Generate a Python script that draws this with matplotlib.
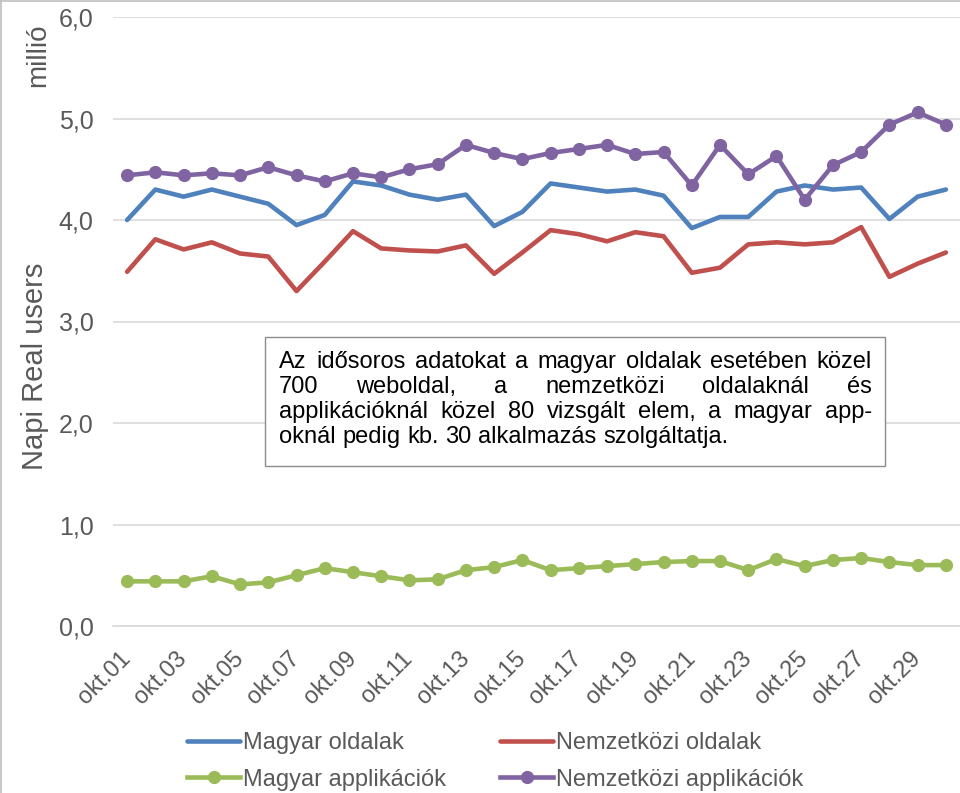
import matplotlib
matplotlib.use("Agg")
import matplotlib.pyplot as plt
from matplotlib.patches import Rectangle
from matplotlib.lines import Line2D

plt.rcParams["font.family"] = ["Liberation Sans", "DejaVu Sans"]

# data (millió napi real user)
days = [f"okt.{d:02d}" for d in range(1, 31)]

magyar_oldalak = [
    4.00, 4.30, 4.23, 4.30, 4.23, 4.16, 3.95, 4.05, 4.38, 4.34,
    4.25, 4.20, 4.25, 3.94, 4.08, 4.36, 4.32, 4.28, 4.30, 4.24,
    3.92, 4.03, 4.03, 4.28, 4.34, 4.30, 4.32, 4.01, 4.23, 4.30,
]
nemzetkozi_oldalak = [
    3.49, 3.81, 3.71, 3.78, 3.67, 3.64, 3.30, 3.59, 3.89, 3.72,
    3.70, 3.69, 3.75, 3.47, 3.68, 3.90, 3.86, 3.79, 3.88, 3.84,
    3.48, 3.53, 3.76, 3.78, 3.76, 3.78, 3.93, 3.44, 3.57, 3.68,
]
magyar_app = [
    0.44, 0.44, 0.44, 0.49, 0.41, 0.43, 0.50, 0.57, 0.53, 0.49,
    0.45, 0.46, 0.55, 0.58, 0.65, 0.55, 0.57, 0.59, 0.61, 0.63,
    0.64, 0.64, 0.55, 0.66, 0.59, 0.65, 0.67, 0.63, 0.60, 0.60,
]
nemzetkozi_app = [
    4.44, 4.47, 4.44, 4.46, 4.44, 4.52, 4.44, 4.38, 4.46, 4.42,
    4.50, 4.55, 4.74, 4.66, 4.60, 4.66, 4.70, 4.74, 4.65, 4.67,
    4.34, 4.74, 4.45, 4.63, 4.20, 4.54, 4.67, 4.94, 5.06, 4.94,
]

yticks = [0, 1, 2, 3, 4, 5, 6]
ytick_labels = ["0,0", "1,0", "2,0", "3,0", "4,0", "5,0", "6,0"]

note_lines = [
    "Az idősoros adatokat a magyar oldalak esetében közel",
    "700 weboldal, a nemzetközi oldalaknál és",
    "applikációknál közel 80 vizsgált elem, a magyar app-",
    "oknál pedig kb. 30 alkalmazás szolgáltatja.",
]

BLUE = "#4f81bd"
RED = "#c0504d"
GREEN = "#9bbb59"
PURPLE = "#8064a2"
TEXT = "#595959"
GRID = "#d9d9d9"

W, H = 960, 793


def fx(px):
    return px / W


def fy(py):
    return 1 - py / H


def draw_note(fig):
    box = Rectangle(
        (fx(265), fy(466)), fx(885) - fx(265), fy(337) - fy(466),
        transform=fig.transFigure, facecolor="white",
        edgecolor="#8c8c8c", linewidth=1.0, zorder=5,
    )
    fig.add_artist(box)

    renderer = fig.canvas.get_renderer()
    left, right = 279, 872
    baselines = [368, 393, 418, 443]
    fs = 17

    for i, line in enumerate(note_lines):
        words = line.split()
        texts = []
        widths = []
        for w in words:
            t = fig.text(0, fy(baselines[i]), w, fontsize=fs, color="black",
                         va="baseline", ha="left", zorder=6)
            texts.append(t)
            widths.append(t.get_window_extent(renderer).width)
        if i < len(note_lines) - 1:
            gap = (right - left - sum(widths)) / (len(words) - 1)
        else:
            space = fig.text(0, 0, "a a", fontsize=fs)
            a_only = fig.text(0, 0, "aa", fontsize=fs)
            gap = (space.get_window_extent(renderer).width
                   - a_only.get_window_extent(renderer).width)
            space.remove()
            a_only.remove()
        x = left
        for t, w in zip(texts, widths):
            t.set_x(fx(x))
            x += w + gap


def main():
    fig = plt.figure(figsize=(W / 100, H / 100), dpi=100)
    ax = fig.add_axes([fx(113), fy(626), fx(960) - fx(113), fy(17) - fy(626)])

    x = list(range(len(days)))

    ax.plot(x, magyar_oldalak, color=BLUE, lw=3.3, zorder=3,
            solid_capstyle="round", label="Magyar oldalak")
    ax.plot(x, nemzetkozi_oldalak, color=RED, lw=3.3, zorder=3,
            solid_capstyle="round", label="Nemzetközi oldalak")
    ax.plot(x, magyar_app, color=GREEN, lw=3.3, marker="o", ms=8.5,
            zorder=3, label="Magyar applikációk")
    ax.plot(x, nemzetkozi_app, color=PURPLE, lw=3.3, marker="o", ms=8.5,
            zorder=4, label="Nemzetközi applikációk")

    ax.set_xlim(-0.5, len(days) - 0.5)
    ax.set_ylim(0, 6)

    ax.set_yticks(yticks)
    ax.set_yticklabels(ytick_labels)
    ax.grid(axis="y", color=GRID, lw=1.2)
    ax.set_axisbelow(True)

    ax.set_xticks(x[::2])
    ax.set_xticklabels(days[::2], rotation=45, ha="right", va="center",
                       rotation_mode="anchor")

    ax.tick_params(axis="both", length=0, colors=TEXT)
    ax.tick_params(axis="y", labelsize=18, pad=14)
    ax.tick_params(axis="x", labelsize=17, pad=21)

    for side in ["top", "right", "left"]:
        ax.spines[side].set_visible(False)
    ax.spines["bottom"].set_color(GRID)
    ax.spines["bottom"].set_linewidth(1.2)

    fig.text(fx(35), fy(366), "Napi Real users", rotation=90, fontsize=21,
             color=TEXT, ha="center", va="center")
    fig.text(fx(38), fy(55), "millió", rotation=90, fontsize=20,
             color=TEXT, ha="center", va="center")

    handles, labels = ax.get_legend_handles_labels()
    order = [0, 2, 1, 3]
    fig.legend(
        [handles[i] for i in order], [labels[i] for i in order],
        ncol=2, loc="upper left", bbox_to_anchor=(fx(187), fy(732)),
        frameon=False, fontsize=17, labelcolor=TEXT,
        handlelength=2.25, handletextpad=0.12, columnspacing=2.3,
        labelspacing=0.62, borderpad=0, borderaxespad=0,
    )

    # thin frame of the chart area (left and top edge)
    fig.add_artist(Line2D([0.0008, 0.0008], [0, 1], transform=fig.transFigure,
                          color="#bfbfbf", lw=1.2))
    fig.add_artist(Line2D([0, 1], [0.999, 0.999], transform=fig.transFigure,
                          color="#bfbfbf", lw=1.2))

    draw_note(fig)

    fig.savefig("out.png", dpi=100)
    plt.close(fig)


if __name__ == "__main__":
    main()
